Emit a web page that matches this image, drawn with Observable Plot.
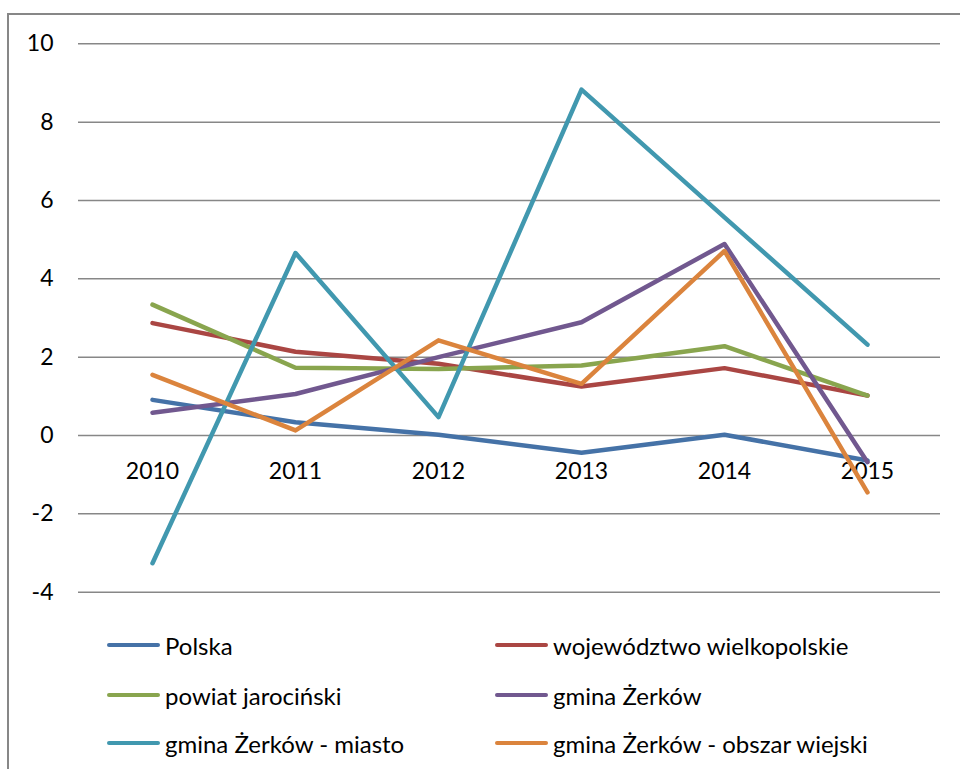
<!DOCTYPE html>
<html><head><meta charset="utf-8">
<script src="https://cdn.jsdelivr.net/npm/d3@7"></script>
<script src="https://cdn.jsdelivr.net/npm/@observablehq/plot@0.6"></script>
<style>
body{margin:0;background:#fff;}
#wrap{position:relative;width:960px;height:769px;overflow:hidden;font-family:Lato,"Open Sans",sans-serif;}
#frame{position:absolute;left:7px;top:13px;width:1000px;height:1000px;border-left:2px solid #878787;border-top:2px solid #878787;}
#chart{position:absolute;left:0;top:0;}
.leg{position:absolute;display:flex;align-items:center;font-size:24px;color:#000;white-space:nowrap;}
.sw{width:53px;height:4.5px;border-radius:2.5px;margin-right:5px;}
</style></head>
<body><div id="wrap"><div id="frame"></div><div id="chart"></div><div id="legend"></div></div>
<script>
const years = ["2010", "2011", "2012", "2013", "2014", "2015"];
const seriesNames = ["Polska", "województwo wielkopolskie", "powiat jarociński", "gmina Żerków", "gmina Żerków - miasto", "gmina Żerków - obszar wiejski"];
const colors = ["#4572A7", "#AA4643", "#89A54E", "#71588F", "#4198AF", "#DB843D"];
const polska = [0.91, 0.34, 0.02, -0.44, 0.02, -0.64];
const wielkopolskie = [2.87, 2.14, 1.83, 1.25, 1.72, 1.02];
const jarocinski = [3.34, 1.73, 1.70, 1.79, 2.28, 1.02];
const zerkow = [0.58, 1.06, 2.00, 2.89, 4.89, -0.68];
const zerkowMiasto = [-3.26, 4.66, 0.47, 8.83, 5.57, 2.32];
const zerkowWies = [1.55, 0.13, 2.43, 1.32, 4.71, -1.45];
const yTicks = [-4, -2, 0, 2, 4, 6, 8, 10];
const categoryAxisAt = 0;

const seriesValues = [polska, wielkopolskie, jarocinski, zerkow, zerkowMiasto, zerkowWies];
const data = [];
seriesNames.forEach((name, i) => years.forEach((yr, j) => data.push({series: name, year: yr, value: seriesValues[i][j]})));

const chart = Plot.plot({
  width: 960, height: 769,
  marginTop: 43.3, marginBottom: 177.3, marginLeft: 78, marginRight: 20,
  style: {fontFamily: "Lato, 'Open Sans', sans-serif", color: "#000", background: "transparent", overflow: "visible"},
  x: {type: "point", domain: years, padding: 0.5, axis: null},
  y: {domain: [-4, 10], axis: null},
  color: {domain: seriesNames, range: colors},
  marks: [
    Plot.ruleY(yTicks, {stroke: "#878787", strokeWidth: 1.5}),
    Plot.axisY({ticks: yTicks, tickSize: 0, tickPadding: 25, fontSize: 23, tickFormat: d => String(d), label: null}),
    Plot.text(years, {x: d => d, y: () => categoryAxisAt, dy: 36, fontSize: 23, fill: "#000"}),
    Plot.line(data, {x: "year", y: "value", z: "series", stroke: "series", strokeWidth: 4.5, strokeLinecap: "round", strokeLinejoin: "round"})
  ]
});
document.getElementById("chart").appendChild(chart);

const legendPos = [
  {x: 107, y: 645}, {x: 495, y: 645},
  {x: 107, y: 695}, {x: 495, y: 695},
  {x: 107, y: 743}, {x: 495, y: 743}
];
const leg = document.getElementById("legend");
seriesNames.forEach((name, i) => {
  const d = document.createElement("div");
  d.className = "leg";
  d.style.left = legendPos[i].x + "px";
  d.style.top = (legendPos[i].y - 15) + "px";
  d.style.height = "30px";
  const sw = document.createElement("div");
  sw.className = "sw";
  sw.style.background = colors[i];
  const t = document.createElement("span");
  t.textContent = name;
  d.appendChild(sw); d.appendChild(t);
  leg.appendChild(d);
});
</script>
</body></html>
